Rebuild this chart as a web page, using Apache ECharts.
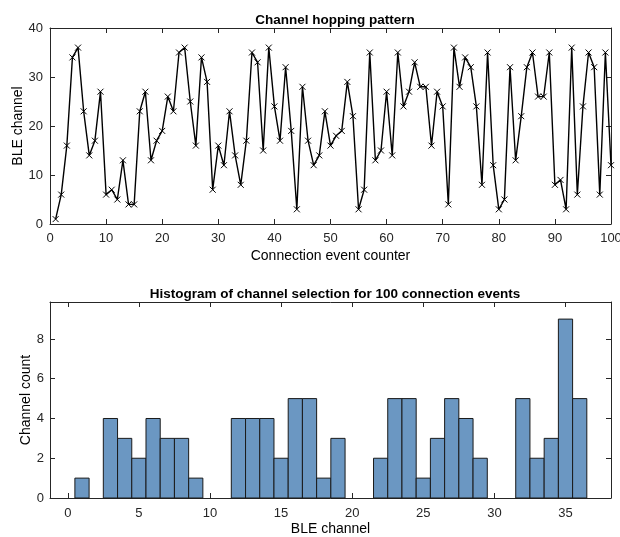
<!DOCTYPE html>
<html>
<head>
<meta charset="utf-8">
<script src="https://cdn.jsdelivr.net/npm/echarts@6/dist/echarts.min.js"></script>
<style>
  html, body { margin: 0; padding: 0; background: #fff; }
  #chart { width: 620px; height: 537px; }
</style>
</head>
<body>
<div id="chart"></div>
<script>
// channel picked at each connection event (1..100)
var hopChannels = [
  1, 6, 16, 34, 36, 23, 14, 17, 27, 6,
  7, 5, 13, 4, 4, 23, 27, 13, 17, 19,
  26, 23, 35, 36, 25, 16, 34, 29, 7, 16,
  12, 23, 14, 8, 17, 35, 33, 15, 36, 24,
  17, 32, 19, 3, 28, 17, 12, 14, 23, 16,
  18, 19, 29, 22, 3, 7, 35, 13, 15, 27,
  14, 35, 24, 27, 33, 28, 28, 16, 27, 24,
  4, 36, 28, 34, 32, 24, 8, 35, 12, 3,
  5, 32, 13, 22, 32, 35, 26, 26, 35, 8,
  9, 3, 36, 6, 24, 35, 32, 6, 35, 12
];
// histogram: channel 0..36 and count
var histChannels = [0, 1, 2, 3, 4, 5, 6, 7, 8, 9, 10, 11, 12, 13, 14, 15, 16, 17, 18,
  19, 20, 21, 22, 23, 24, 25, 26, 27, 28, 29, 30, 31, 32, 33, 34, 35, 36];
var histCounts = [0, 1, 0, 4, 3, 2, 4, 3, 3, 1, 0, 0, 4, 4, 4, 2, 5, 5, 1,
  3, 0, 0, 2, 5, 5, 1, 3, 5, 4, 2, 0, 0, 5, 2, 3, 9, 5];
var histXTicks = [0, 5, 10, 15, 20, 25, 30, 35];
var histYTicks = [0, 2, 4, 6, 8];

var font = 'Liberation Sans, Arial, sans-serif';
var axisColor = '#262626';

var lineData = hopChannels.map(function (v, i) { return [i + 1, v]; });
var barData = histChannels.map(function (c, i) { return [c, histCounts[i]]; });

function boxAxis(extra) {
  var a = {
    axisLine: { show: true, onZero: false, lineStyle: { color: axisColor, width: 1 } },
    axisTick: { show: true, inside: true, length: 5, lineStyle: { color: axisColor } },
    axisLabel: { color: axisColor, fontSize: 13, fontFamily: font },
    splitLine: { show: false },
    nameMoveOverlap: false,
    nameTextStyle: { color: '#000', fontSize: 14, fontFamily: font }
  };
  for (var k in extra) {
    if (typeof extra[k] === 'object' && a[k] && !Array.isArray(extra[k])) {
      a[k] = Object.assign({}, a[k], extra[k]);
    } else {
      a[k] = extra[k];
    }
  }
  return a;
}

var myChart = echarts.init(document.getElementById('chart'));
myChart.setOption({
  animation: false,
  backgroundColor: '#fff',
  title: [
    { text: 'Channel hopping pattern', left: 330, top: 8, textAlign: 'center',
      textStyle: { fontSize: 13.5, fontWeight: 'bold', color: '#000', fontFamily: font } },
    { text: 'Histogram of channel selection for 100 connection events', left: 330, top: 282, textAlign: 'center',
      textStyle: { fontSize: 13.5, fontWeight: 'bold', color: '#000', fontFamily: font } }
  ],
  grid: [
    { left: 50, right: 9, top: 28, height: 196, outerBoundsMode: 'none', containLabel: false },
    { left: 50, right: 9, top: 302, height: 196, outerBoundsMode: 'none', containLabel: false }
  ],
  xAxis: [
    boxAxis({ type: 'value', gridIndex: 0, min: 0, max: 100, interval: 10,
      axisLabel: { margin: 8 },
      name: 'Connection event counter', nameLocation: 'middle', nameGap: 25 }),
    boxAxis({ type: 'value', gridIndex: 0, position: 'top', min: 0, max: 100, interval: 10,
      axisLabel: { show: false } }),
    boxAxis({ type: 'value', gridIndex: 1, min: -1.25, max: 38.2,
      axisTick: { customValues: histXTicks },
      axisLabel: { margin: 9, customValues: histXTicks },
      name: 'BLE channel', nameLocation: 'middle', nameGap: 24 }),
    boxAxis({ type: 'value', gridIndex: 1, position: 'top', min: -1.25, max: 38.2,
      axisTick: { customValues: histXTicks },
      axisLabel: { show: false, customValues: histXTicks } })
  ],
  yAxis: [
    boxAxis({ type: 'value', gridIndex: 0, min: 0, max: 40, interval: 10,
      axisLabel: { margin: 7 },
      name: 'BLE channel', nameLocation: 'middle', nameGap: 25 }),
    boxAxis({ type: 'value', gridIndex: 0, position: 'right', min: 0, max: 40, interval: 10,
      axisLabel: { show: false } }),
    boxAxis({ type: 'value', gridIndex: 1, min: 0, max: 9.86,
      axisTick: { customValues: histYTicks },
      axisLabel: { margin: 6, customValues: histYTicks },
      name: 'Channel count', nameLocation: 'middle', nameGap: 17 }),
    boxAxis({ type: 'value', gridIndex: 1, position: 'right', min: 0, max: 9.86,
      axisTick: { customValues: histYTicks },
      axisLabel: { show: false, customValues: histYTicks } })
  ],
  series: [
    {
      type: 'line',
      xAxisIndex: 0,
      yAxisIndex: 0,
      data: lineData,
      symbol: 'path://M0,0L10,10M10,0L0,10',
      symbolSize: 6,
      showAllSymbol: true,
      lineStyle: { color: '#000', width: 1.4 },
      itemStyle: { color: '#000', borderColor: '#000', borderWidth: 1 }
    },
    {
      type: 'custom',
      xAxisIndex: 2,
      yAxisIndex: 2,
      data: barData,
      renderItem: function (params, api) {
        var c = api.value(0);
        var n = api.value(1);
        if (!n) return null;
        var p0 = api.coord([c - 0.5, 0]);
        var p1 = api.coord([c + 0.5, n]);
        return {
          type: 'rect',
          shape: { x: p0[0], y: p1[1], width: p1[0] - p0[0], height: p0[1] - p1[1] },
          style: { fill: '#6b97c2', stroke: '#1a1a1a', lineWidth: 1 }
        };
      },
      encode: { x: 0, y: 1 }
    }
  ]
});
</script>
</body>
</html>
